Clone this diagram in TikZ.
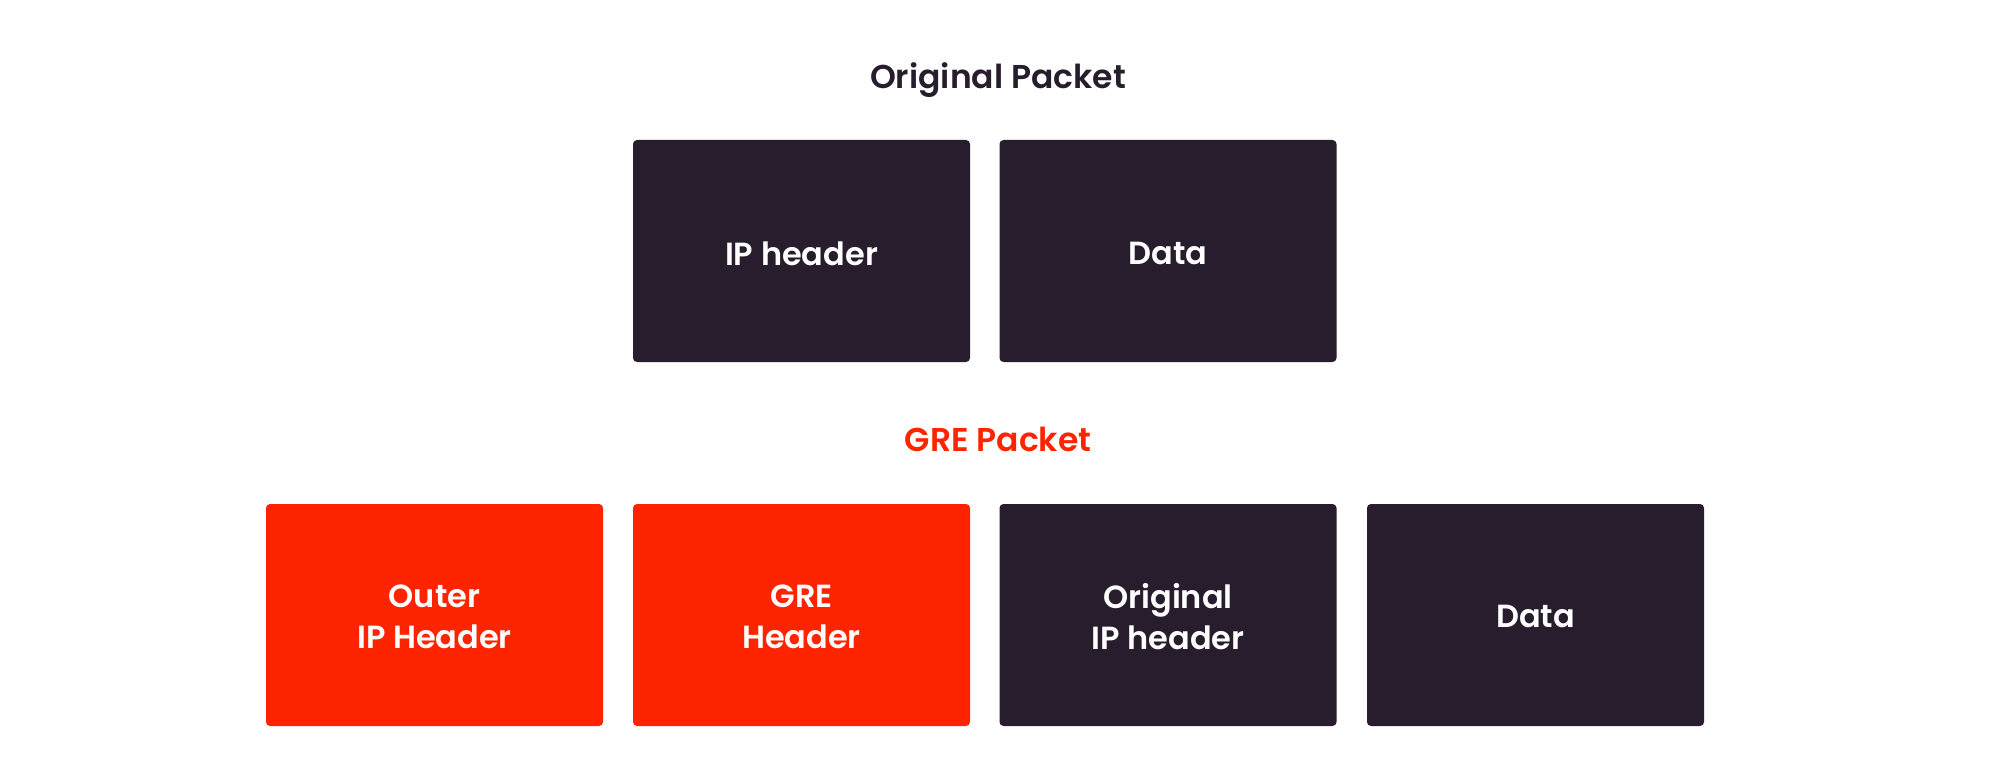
\documentclass[tikz,border=0pt]{standalone}
\usepackage{fontspec}
\setmainfont{Poppins}[UprightFont=* SemiBold]
\definecolor{darkbox}{HTML}{271D2C}
\definecolor{redbox}{HTML}{FF2400}
\begin{document}
\begin{tikzpicture}[x=1pt,y=-1pt,
  pbox/.style={rectangle, rounded corners=4pt, minimum width=337pt, minimum height=222pt,
    inner sep=0pt, text=white, align=center, font=\fontsize{32}{41}\selectfont},
  darkb/.style={pbox, fill=darkbox},
  redb/.style={pbox, fill=redbox},
  ttl/.style={font=\fontsize{33}{38}\selectfont, inner sep=0pt},
  lbl/.style={text=white, align=center, font=\fontsize{32}{41}\selectfont, inner sep=0pt}]
\useasboundingbox (0,0) rectangle (1999,781);
\node[ttl, text=darkbox] (t1) at (998,80) {Original Packet};
\node[darkb] (ip) at (801.5,251) {};
\node[lbl] (ipl) at ([yshift=-2.5pt]ip.center) {IP header};
\node[darkb] (data) at (1168,251) {};
\node[lbl] (datal) at ([yshift=-2.5pt]data.center) {Data};
\node[ttl, text=redbox] (t2) at (998,439) {GRE Packet};
\node[redb] (outer) at (434.5,615) {};
\node[lbl] (outerl) at ([yshift=-1.5pt]outer.center) {Outer\\IP Header};
\node[redb] (gre) at (801.5,615) {};
\node[lbl] (grel) at ([yshift=-1.5pt]gre.center) {GRE\\Header};
\node[darkb] (orig) at (1168,615) {};
\node[lbl] (origl) at ([yshift=-1.5pt]orig.center) {Original\\IP header};
\node[darkb] (data2) at (1535.5,615) {};
\node[lbl] (data2l) at ([yshift=-1.5pt]data2.center) {Data};
\end{tikzpicture}
\end{document}
